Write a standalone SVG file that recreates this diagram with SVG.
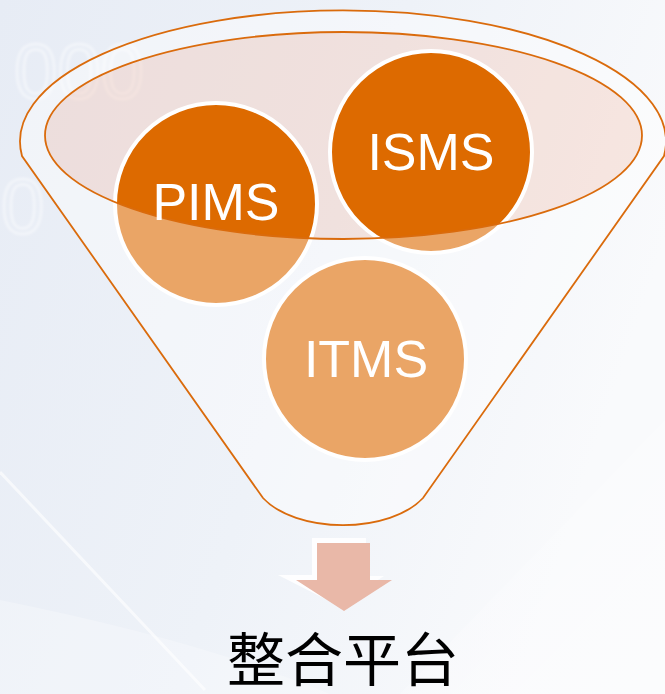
<svg xmlns="http://www.w3.org/2000/svg" width="665" height="694" viewBox="0 0 665 694">
  <defs>
    <linearGradient id="bg" x1="0" y1="0" x2="1" y2="0.35">
      <stop offset="0" stop-color="#E7ECF5"/>
      <stop offset="0.55" stop-color="#EEF2F8"/>
      <stop offset="1" stop-color="#F9FAFC"/>
    </linearGradient>
    <linearGradient id="sheen" x1="0" y1="0" x2="1" y2="1">
      <stop offset="0" stop-color="#FFFFFF" stop-opacity="0"/>
      <stop offset="1" stop-color="#FFFFFF" stop-opacity="0.7"/>
    </linearGradient>
    <filter id="soft" x="-10%" y="-10%" width="120%" height="120%">
      <feGaussianBlur stdDeviation="0.9"/>
    </filter>
    <style>
      .ball { stroke: #FFFFFF; stroke-width: 4; fill: #DD6A00; }
      .ball-label { font-family: "Liberation Sans", Arial, sans-serif; font-size: 52px; fill: #FFFFFF; text-anchor: middle; }
      .outline { fill: none; stroke: #DA6B0C; stroke-width: 1.8; }
      .deco { font-family: "Liberation Sans", Arial, sans-serif; font-size: 78px; fill: none; stroke: #FFFFFF; stroke-opacity: 0.4; stroke-width: 3; }
    </style>
  </defs>

  <!-- backdrop -->
  <rect width="665" height="694" fill="url(#bg)"/>
  <path d="M 400 694 L 665 420 L 665 694 Z" fill="url(#sheen)" opacity="0.6"/>
  <path d="M 0 600 Q 200 640 330 694 L 0 694 Z" fill="#FFFFFF" opacity="0.25"/>
  <line x1="0" y1="472" x2="205" y2="690" stroke="#FFFFFF" stroke-opacity="0.6" stroke-width="3"/>
  <g filter="url(#soft)">
    <text class="deco" x="14" y="98">000</text>
    <text class="deco" x="1" y="233">0</text>
  </g>

  <!-- funnel mouth (back) -->
  <g id="funnel-mouth">
    <ellipse cx="343.5" cy="135.5" rx="298.5" ry="103.5" fill="#F5BEAA" fill-opacity="0.33"/>
  </g>

  <!-- items poured into the funnel -->
  <g id="node-pims">
    <circle class="ball" cx="216" cy="204" r="101"/>
  </g>
  <g id="node-isms">
    <circle class="ball" cx="431" cy="152" r="101"/>
  </g>
  <g id="node-itms">
    <circle class="ball" cx="365" cy="359" r="101"/>
  </g>

  <!-- funnel body (front, translucent) -->
  <g id="funnel-body">
    <path fill="#FFFFFF" fill-opacity="0.4" fill-rule="evenodd"
          d="M 22 156 A 323 131 0 1 1 664 156 L 423 498 A 90 50 0 0 1 263 498 Z
             M 45 135.5 A 298.5 103.5 0 1 0 642 135.5 A 298.5 103.5 0 1 0 45 135.5 Z"/>
    <path class="outline" d="M 22 156 A 323 131 0 1 1 664 156 L 423 498 A 90 50 0 0 1 263 498 Z"/>
    <ellipse class="outline" cx="343.5" cy="135.5" rx="298.5" ry="103.5"/>
  </g>

  <!-- labels on items -->
  <g id="labels">
    <text class="ball-label" x="216" y="220">PIMS</text>
    <text class="ball-label" x="431" y="170">ISMS</text>
    <text class="ball-label" x="366" y="377">ITMS</text>
  </g>

  <!-- output arrow -->
  <g id="connectors">
    <path d="M 312 538 L 366 538 L 366 576 L 384 576 L 339 606 L 278 575 L 312 575 Z" fill="#FFFFFF" fill-opacity="0.9"/>
    <path d="M 317 543 L 370 543 L 370 580 L 392 580 L 344 611 L 296 580 L 317 580 Z" fill="#E9B8A8"/>
  </g>

  <!-- result -->
  <g id="result">
    <text x="343" y="681" font-family="'Noto Sans CJK TC', 'Noto Sans CJK SC', serif" font-size="58" fill="#000000" text-anchor="middle">整合平台</text>
  </g>
</svg>
